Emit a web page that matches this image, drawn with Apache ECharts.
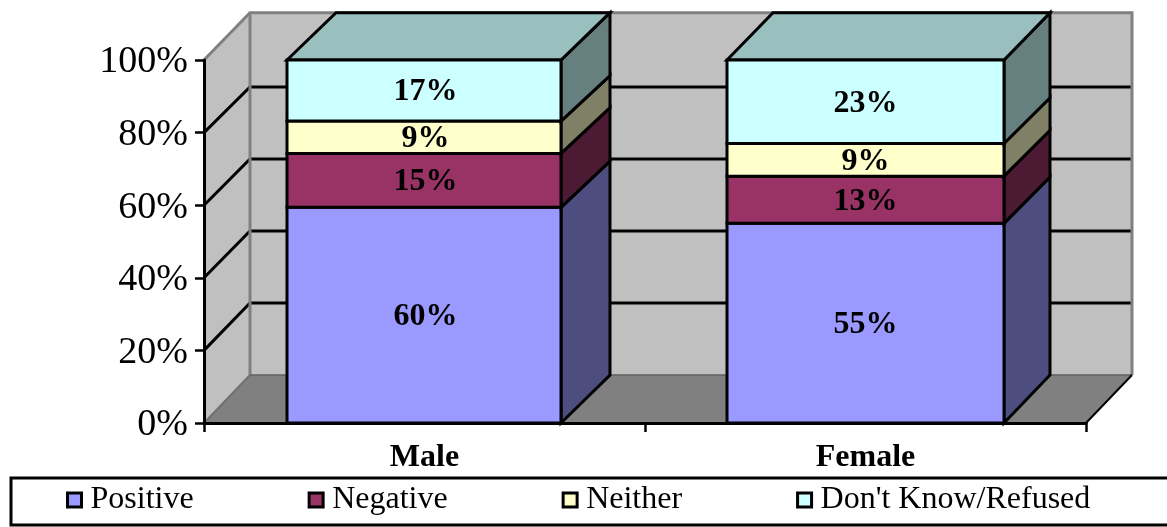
<!DOCTYPE html>
<html>
<head>
<meta charset="utf-8">
<style>html,body{margin:0;padding:0;background:#fff}#c{width:1167px;height:527px}</style>
<script src="https://cdn.jsdelivr.net/npm/echarts@6/dist/echarts.min.js"></script>
</head>
<body>
<div id="c"></div>
<script>
var categories = ['Male', 'Female'];
var seriesNames = ['Positive', 'Negative', 'Neither', "Don't Know/Refused"];
var positive = [60, 55];
var negative = [15, 13];
var neither = [9, 9];
var dontKnow = [17, 23];
var valueTicks = [0, 20, 40, 60, 80, 100];

var faceColors = ['#9999FF', '#993366', '#FFFFCC', '#CCFFFF'];
var sideColors = ['#4D4D80', '#4D1A33', '#808066', '#668080'];
var topColors = ['#7373BF', '#732650', '#BFBF99', '#99BFBF'];
var FONT = '"Liberation Serif","Times New Roman",serif';

var allSeries = [positive, negative, neither, dontKnow];
var barShift = [-0.5, 0];
var labelShift = [1.5, 0];
var barWidth = [274, 277];
var barDepth = [49, 46];
var wallDx = 46;

function depthY(v) { return v >= 100 ? 47.3 : 48 - 0.03 * v; }

function stackedData(sIdx) {
  return categories.map(function (c, i) {
    var total = 0, before = 0;
    allSeries.forEach(function (s, k) { total += s[i]; if (k < sIdx) before += s[i]; });
    return [i, before / total * 100, (before + allSeries[sIdx][i]) / total * 100, allSeries[sIdx][i]];
  });
}

function renderWalls(params, api) {
  var cs = params.coordSys;
  var L = cs.x, R = cs.x + cs.width;
  var y = function (v) { return api.coord([0, v])[1]; };
  var back = function (v) { return y(v) - depthY(v); };
  var grey = { stroke: '#808080', lineWidth: 3, fill: null };
  var kids = [
    { type: 'polygon', shape: { points: [[L, y(0)], [L + wallDx, back(0)], [L + wallDx, back(100)], [L, y(100)]] }, style: { fill: '#C0C0C0' } },
    { type: 'rect', shape: { x: L + wallDx, y: back(100), width: R - L, height: back(0) - back(100) }, style: { fill: '#C0C0C0' } },
    { type: 'polygon', shape: { points: [[L, y(0)], [L + wallDx, back(0)], [R + wallDx, back(0)], [R, y(0)]] }, style: { fill: '#808080' } }
  ];
  valueTicks.forEach(function (v) {
    if (v === 0 || v === 100) return;
    kids.push({ type: 'polyline', shape: { points: [[L, y(v)], [L + wallDx, back(v)], [R + wallDx, back(v)]] }, style: { stroke: '#000', lineWidth: 3, fill: null } });
  });
  kids.push(
    { type: 'polyline', shape: { points: [[L, y(100)], [L + wallDx, back(100)], [R + wallDx, back(100)], [R + wallDx, back(0)]] }, style: grey },
    { type: 'line', shape: { x1: L + wallDx, y1: back(100), x2: L + wallDx, y2: back(0) }, style: grey },
    { type: 'line', shape: { x1: L, y1: y(0), x2: L + wallDx, y2: back(0) }, style: { stroke: '#707070', lineWidth: 2 } },
    { type: 'line', shape: { x1: L + wallDx, y1: back(0), x2: R + wallDx, y2: back(0) }, style: { stroke: '#606060', lineWidth: 1.5 } },
    { type: 'line', shape: { x1: R, y1: y(0), x2: R + wallDx, y2: back(0) }, style: { stroke: '#000', lineWidth: 2 } }
  );
  return { type: 'group', children: kids };
}

function makeRender(sIdx) {
  return function (params, api) {
    var i = api.value(0), a = api.value(1), b = api.value(2), raw = api.value(3);
    var cx = api.coord([i, 0])[0] + barShift[i];
    var w = barWidth[i], d = barDepth[i];
    var x0 = cx - w / 2, x1 = cx + w / 2;
    var ya = api.coord([i, a])[1], yb = api.coord([i, b])[1];
    var bya = ya - depthY(a), byb = yb - depthY(b);
    var line = { stroke: '#000', lineWidth: 3, lineJoin: 'miter' };
    var kids = [
      { type: 'polygon', shape: { points: [[x1, ya], [x1 + d, bya], [x1 + d, byb], [x1, yb]] },
        style: Object.assign({ fill: sideColors[sIdx] }, line) }
    ];
    if (b >= 99.99) {
      kids.push({ type: 'polygon', shape: { points: [[x0, yb], [x0 + d, byb], [x1 + d, byb], [x1, yb]] },
        style: Object.assign({ fill: topColors[sIdx] }, line) });
    }
    kids.push({ type: 'rect', shape: { x: x0, y: yb, width: w, height: ya - yb },
      style: Object.assign({ fill: faceColors[sIdx] }, line) });
    kids.push({ type: 'text', z2: 50, style: { text: raw + '%', x: cx + labelShift[i], y: (ya + yb) / 2 + 1.5, align: 'center', verticalAlign: 'middle',
      fontFamily: FONT, fontWeight: 'bold', fontSize: 32, fill: '#000' } });
    return { type: 'group', children: kids };
  };
}

var series = [{
  type: 'custom', name: 'walls', coordinateSystem: 'cartesian2d', z: 1, silent: true,
  renderItem: renderWalls, encode: { x: 0, y: 1 }, data: [[0, 0]]
}];
seriesNames.forEach(function (n, k) {
  series.push({
    type: 'custom', name: n, coordinateSystem: 'cartesian2d', z: 2, silent: true,
    itemStyle: { color: faceColors[k] },
    renderItem: makeRender(k), encode: { x: 0, y: [1, 2] }, data: stackedData(k)
  });
});

var chart = echarts.init(document.getElementById('c'), null, { renderer: 'canvas' });
chart.setOption({
  animation: false,
  backgroundColor: '#fff',
  grid: { left: 204, right: 81, top: 60, bottom: 104, containLabel: false },
  xAxis: {
    type: 'category', data: categories, z: 10,
    axisLine: { lineStyle: { color: '#000', width: 3 } },
    axisTick: { show: true, length: 9, alignWithLabel: false, lineStyle: { color: '#000', width: 2.5 } },
    axisLabel: { color: '#000', fontFamily: FONT, fontWeight: 'bold', fontSize: 32, margin: 19 }
  },
  yAxis: {
    type: 'value', min: 0, max: 100, interval: 20, z: 10,
    axisLine: { show: true, lineStyle: { color: '#000', width: 3 } },
    axisTick: { show: true, length: 9, lineStyle: { color: '#000', width: 2.5 } },
    splitLine: { show: false },
    axisLabel: { color: '#000', fontFamily: FONT, fontSize: 38, margin: 16, verticalAlign: 'top', lineHeight: 5, formatter: '{value}%' }
  },
  legend: {
    data: seriesNames, left: 66, top: 484, orient: 'horizontal', padding: 0,
    icon: 'rect', itemWidth: 14, itemHeight: 14, itemGap: 114, selectedMode: false,
    itemStyle: { borderColor: '#000', borderWidth: 3 },
    textStyle: { color: '#000', fontFamily: FONT, fontSize: 32, padding: [0, 0, 0, 4] }
  },
  graphic: [{
    type: 'rect', z: 0, silent: true,
    shape: { x: 11, y: 478, width: 1170, height: 47 },
    style: { fill: '#fff', stroke: '#000', lineWidth: 3 }
  }],
  series: series
});
</script>
</body>
</html>
